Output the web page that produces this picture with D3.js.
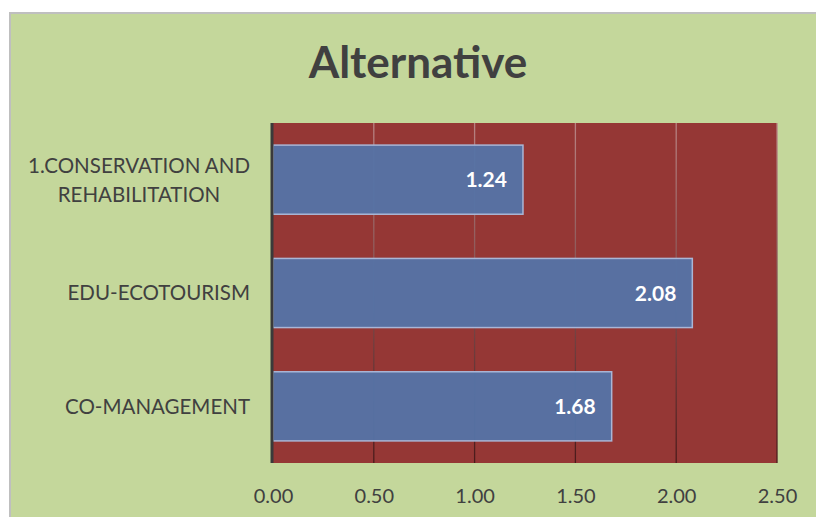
<!DOCTYPE html>
<html><head><meta charset="utf-8">
<script src="https://cdn.jsdelivr.net/npm/d3@7"></script>
<style>body{margin:0;background:#fff}svg{display:block}</style>
</head><body>
<svg id="c" width="816" height="517"></svg>
<script>
const categories = ["1.CONSERVATION AND\nREHABILITATION", "EDU-ECOTOURISM", "CO-MANAGEMENT"];
const values = [1.24, 2.08, 1.68];
const ticks = [0, 0.5, 1.0, 1.5, 2.0, 2.5];
const title = "Alternative";

const svg = d3.select("#c");
const font = "Lato, 'Open Sans', sans-serif";
svg.append("rect").attr("x", 10).attr("y", 13).attr("width", 820).attr("height", 520)
  .attr("fill", "#c4d79b").attr("stroke", "#bfbfbf").attr("stroke-width", 2);

const m = {l: 273, r: 777, t: 123, b: 463};
const x = d3.scaleLinear().domain([0, 2.5]).range([m.l, m.r]);
const y = d3.scaleBand().domain(categories).range([m.t, m.b]).paddingInner(0.39).paddingOuter(0.195);

const defs = svg.append("defs");
const g = defs.append("linearGradient").attr("id", "gg").attr("gradientUnits", "userSpaceOnUse")
  .attr("x1", 0).attr("y1", m.t).attr("x2", 0).attr("y2", m.b);
g.append("stop").attr("offset", 0).attr("stop-color", "#b88282");
g.append("stop").attr("offset", 1).attr("stop-color", "#4a1a1a");

svg.append("rect").attr("x", m.l).attr("y", m.t).attr("width", m.r - m.l).attr("height", m.b - m.t).attr("fill", "#953735");
svg.append("g").selectAll("line").data(ticks.slice(1)).join("line")
  .attr("x1", d => x(d)).attr("x2", d => x(d)).attr("y1", m.t).attr("y2", m.b)
  .attr("stroke", "url(#gg)").attr("stroke-width", 1.3);

svg.append("g").selectAll("rect").data(values).join("rect")
  .attr("x", x(0)).attr("y", (d, i) => y(categories[i]))
  .attr("width", d => x(d) - x(0)).attr("height", y.bandwidth())
  .attr("fill", "#5573a6").attr("fill-opacity", 0.96)
  .attr("stroke", "#a9b6d6").attr("stroke-width", 1.5);

svg.append("line").attr("x1", m.l - 1).attr("x2", m.l - 1).attr("y1", m.t).attr("y2", m.b)
  .attr("stroke", "#3a3a3a").attr("stroke-width", 3);

svg.append("g").selectAll("text").data(values).join("text")
  .attr("x", d => x(d) - 16).attr("y", (d, i) => y(categories[i]) + y.bandwidth() / 2)
  .attr("dy", "0.36em").attr("text-anchor", "end").attr("fill", "#fff")
  .attr("font-family", font).attr("font-weight", "bold").attr("font-size", 21)
  .text(d => d.toFixed(2));

// category labels
categories.forEach(c => {
  const lines = c.split("\n");
  const cy = y(c) + y.bandwidth() / 2;
  const t = svg.append("text").attr("font-family", font).attr("font-size", 20.5).attr("fill", "#404040");
  const lh = 29;
  lines.forEach((ln, i) => {
    t.append("tspan").text(ln).attr("y", cy + (i - (lines.length - 1) / 2) * lh).attr("dy", "0.36em");
  });
  const tsp = t.selectAll("tspan").nodes();
  const widths = tsp.map(n => n.getComputedTextLength());
  const maxW = d3.max(widths);
  const cx = 250 - maxW / 2;
  tsp.forEach(n => d3.select(n).attr("x", cx).attr("text-anchor", "middle"));
});

const ax = d3.axisBottom(x).tickValues(ticks).tickFormat(d3.format(".2f")).tickSize(0).tickPadding(0);
const axg = svg.append("g").attr("transform", `translate(0,${m.b})`).call(ax);
axg.select(".domain").remove();
axg.selectAll("text").attr("font-family", font).attr("font-size", 20).attr("fill", "#404040")
  .attr("dy", null).attr("y", 40);

svg.append("text").attr("x", 418).attr("y", 78).attr("text-anchor", "middle")
  .attr("font-family", font).attr("font-weight", "bold").attr("font-size", 44).attr("fill", "#404040")
  .text(title);
</script>
</body></html>
